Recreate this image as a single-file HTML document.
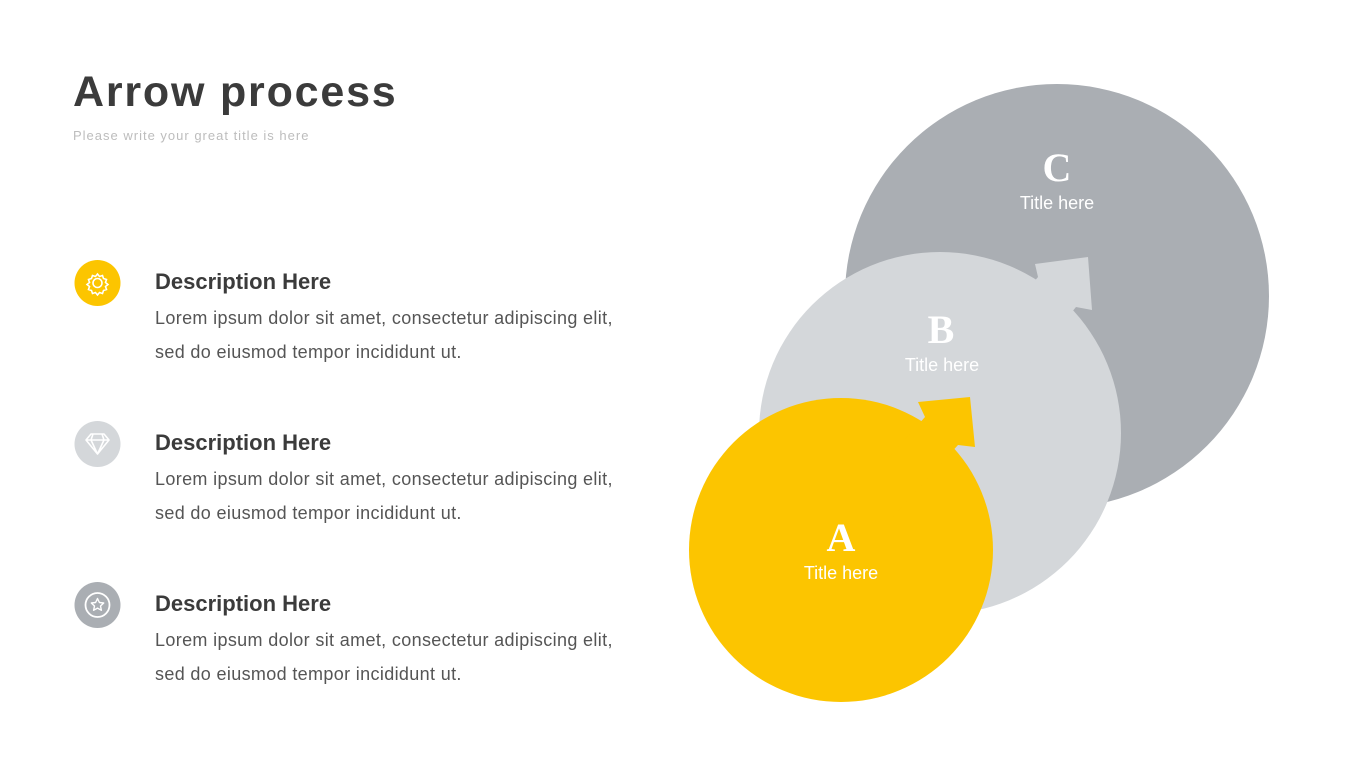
<!DOCTYPE html>
<html><head><meta charset="utf-8"><style>
body{margin:0;width:1365px;height:768px;background:#fff;position:relative;overflow:hidden;font-family:"Liberation Sans",sans-serif}
.t{position:absolute;left:73px;top:68px;font-size:43px;font-weight:bold;color:#3b3b3b;letter-spacing:1.8px}
.s{position:absolute;left:73px;top:128px;font-size:13px;color:#bdbdbd;letter-spacing:1px}
.h{position:absolute;left:155px;font-size:22px;font-weight:bold;color:#3b3b3b}
.p{position:absolute;left:155px;font-size:18px;line-height:34px;color:#555;letter-spacing:0.35px}
</style></head><body>
<div class="t">Arrow process</div>
<div class="s">Please write your great title is here</div>
<svg width="1365" height="768" style="position:absolute;left:0;top:0">
<circle cx="97.5" cy="283" r="23" fill="#fcc500"/>
<g fill="none" stroke="#fff" stroke-width="1.6">
<circle cx="97.5" cy="283" r="4.5"/>
<path d="M97.5 274 l2 2.5 3-1 1 3 3 1-1 3 2.5 2-2.5 2 1 3-3 1-1 3-3-1-2 2.5-2-2.5-3 1-1-3-3-1 1-3-2.5-2 2.5-2-1-3 3-1 1-3 3 1z"/>
</g>
<circle cx="97.5" cy="444" r="23" fill="#d4d7da"/>
<g fill="none" stroke="#fff" stroke-width="1.6" stroke-linejoin="round">
<path d="M91 434h13l5 6-11.5 14-11.5-14z M86 440h23 M93 434l-2 6 6.5 14 6.5-14-2-6"/>
</g>
<circle cx="97.5" cy="605" r="23" fill="#aaaeb3"/>
<circle cx="97.5" cy="605" r="12" fill="none" stroke="#fff" stroke-width="1.8"/>
<path d="M97.5 598.5l1.9 4 4.3.5-3.2 3 .9 4.3-3.9-2.2-3.9 2.2.9-4.3-3.2-3 4.3-.5z" fill="none" stroke="#fff" stroke-width="1.4" stroke-linejoin="round"/>

<circle cx="1057" cy="296" r="212" fill="#aaaeb3"/>
<g fill="#d4d7da">
<circle cx="940" cy="433" r="181"/>
<polygon points="1038,277 1035,264 1088,257 1092,310 1076,307 1000,400 960,370"/>
</g>
<g fill="#fcc500">
<circle cx="841" cy="550" r="152"/>
<polygon points="925,417 918,402 970,397 975,447 958,445 890,520 860,490"/>
</g>
<g fill="#fff" text-anchor="middle">
<text x="1057" y="181" font-family="Liberation Serif,serif" font-weight="bold" font-size="40">C</text>
<text x="1057" y="209" font-size="18">Title here</text>
<text x="941" y="343" font-family="Liberation Serif,serif" font-weight="bold" font-size="40">B</text>
<text x="942" y="371" font-size="18">Title here</text>
<text x="841" y="551" font-family="Liberation Serif,serif" font-weight="bold" font-size="40">A</text>
<text x="841" y="579" font-size="18">Title here</text>
</g>
</svg>
<div class="h" style="top:269px">Description Here</div>
<div class="p" style="top:301px">Lorem ipsum dolor sit amet, consectetur adipiscing elit,<br>sed do eiusmod tempor incididunt ut.</div>
<div class="h" style="top:430px">Description Here</div>
<div class="p" style="top:462px">Lorem ipsum dolor sit amet, consectetur adipiscing elit,<br>sed do eiusmod tempor incididunt ut.</div>
<div class="h" style="top:591px">Description Here</div>
<div class="p" style="top:623px">Lorem ipsum dolor sit amet, consectetur adipiscing elit,<br>sed do eiusmod tempor incididunt ut.</div>
</body></html>
